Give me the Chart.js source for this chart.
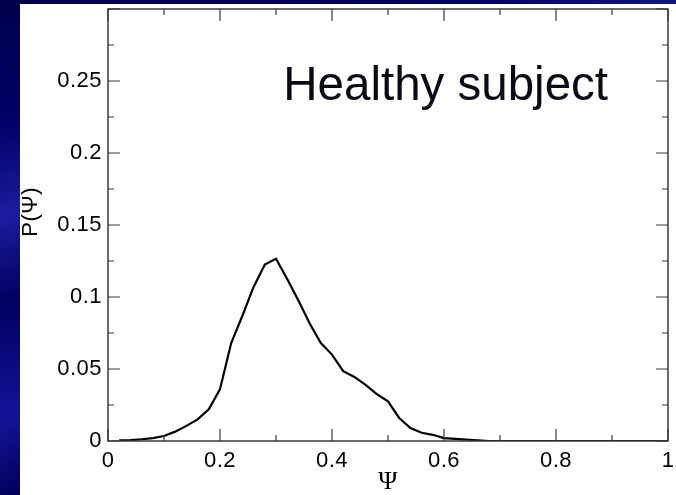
<!DOCTYPE html>
<html>
<head>
<meta charset="utf-8">
<script src="https://cdn.jsdelivr.net/npm/chart.js@4.4.1/dist/chart.umd.min.js"></script>
<style>
  html, body { margin: 0; padding: 0; }
  body {
    width: 676px; height: 495px; overflow: hidden; position: relative;
    background: linear-gradient(165deg, #00004e 0%, #000066 18%, #1c1ca0 32%, #000060 45%, #14149a 62%, #00005a 74%, #000050 100%);
  }
  #painel { position: absolute; left: 20px; top: 4px; width: 656px; height: 491px; background: #fff; }
</style>
</head>
<body>
<div id="painel"><canvas id="grafico" width="656" height="491"></canvas></div>
<script>
const psi = [0.02, 0.04, 0.06, 0.08, 0.10, 0.12, 0.14, 0.16, 0.18, 0.20,
             0.22, 0.24, 0.26, 0.28, 0.30, 0.32, 0.34, 0.36, 0.38, 0.40,
             0.42, 0.44, 0.46, 0.48, 0.50, 0.52, 0.54, 0.56, 0.58, 0.60,
             0.62, 0.64, 0.66, 0.68, 0.70, 0.72, 0.74, 0.76, 0.78, 0.80,
             0.82, 0.84, 0.86, 0.88, 0.90, 0.92, 0.94, 0.96, 0.98, 1.00];
const prob = [0.0004, 0.0006, 0.0012, 0.002, 0.0035, 0.0065, 0.0105, 0.015, 0.022, 0.036,
              0.068, 0.087, 0.107, 0.1225, 0.1266, 0.1125, 0.0975, 0.0817, 0.068, 0.060,
              0.0485, 0.0445, 0.039, 0.0325, 0.0275, 0.016, 0.009, 0.0057, 0.0043, 0.002,
              0.0015, 0.001, 0.0005, 0, 0, 0, 0, 0, 0, 0,
              0, 0, 0, 0, 0, 0, 0, 0, 0, 0];

const xMajor = [0, 0.2, 0.4, 0.6, 0.8, 1];
const xMinor = [0.1, 0.3, 0.5, 0.7, 0.9];
const yMajor = [0, 0.05, 0.1, 0.15, 0.2, 0.25, 0.3];
const yMinor = [0.025, 0.075, 0.125, 0.175, 0.225, 0.275];
const yLabeled = [0, 0.05, 0.1, 0.15, 0.2, 0.25];
const legenda = 'Healthy subject';
const legendaPos = [0.313, 0.2365];

// moldura com marcas para dentro, nos quatro lados
const moldura = {
  id: 'moldura',
  beforeDraw(chart) {
    chart.ctx.letterSpacing = '0.5px';
  },
  afterDatasetsDraw(chart) {
    const { ctx, chartArea: a, scales: { x, y } } = chart;
    ctx.save();
    ctx.strokeStyle = '#3a3a3a';
    ctx.lineWidth = 1.5;
    ctx.strokeRect(a.left, a.top, a.right - a.left, a.bottom - a.top);
    ctx.lineWidth = 1.2;
    ctx.beginPath();
    const marcaX = (v, len) => {
      const px = x.getPixelForValue(v);
      ctx.moveTo(px, a.bottom); ctx.lineTo(px, a.bottom - len);
      ctx.moveTo(px, a.top); ctx.lineTo(px, a.top + len);
    };
    const marcaY = (v, len) => {
      const py = y.getPixelForValue(v);
      ctx.moveTo(a.left, py); ctx.lineTo(a.left + len, py);
      ctx.moveTo(a.right, py); ctx.lineTo(a.right - len, py);
    };
    xMajor.forEach(v => marcaX(v, 12));
    xMinor.forEach(v => marcaX(v, 6));
    yMajor.forEach(v => marcaY(v, 12));
    yMinor.forEach(v => marcaY(v, 6));
    ctx.stroke();

    ctx.letterSpacing = '0px';
    ctx.fillStyle = '#0a0a14';
    ctx.font = '47.5px "Liberation Sans", Arial, sans-serif';
    ctx.textBaseline = 'alphabetic';
    ctx.textAlign = 'left';
    ctx.fillText(legenda, x.getPixelForValue(legendaPos[0]), y.getPixelForValue(legendaPos[1]));
    ctx.restore();
  }
};

const ctx = document.getElementById('grafico').getContext('2d');
new Chart(ctx, {
  type: 'line',
  data: {
    datasets: [{
      data: psi.map((v, i) => ({ x: v, y: prob[i] })),
      borderColor: '#000',
      borderWidth: 2.2,
      pointRadius: 0,
      tension: 0,
      fill: false
    }]
  },
  options: {
    responsive: false,
    animation: false,
    layout: { padding: { top: 5, right: 8, left: 0, bottom: 0 } },
    plugins: { legend: { display: false }, tooltip: { enabled: false } },
    scales: {
      x: {
        type: 'linear',
        min: 0, max: 1,
        afterBuildTicks: s => { s.ticks = xMajor.map(v => ({ value: v })); },
        afterFit: s => { s.height = 54; s.paddingLeft = 0; s.paddingRight = 0; },
        grid: { display: false, drawTicks: false },
        border: { display: false },
        ticks: {
          color: '#000',
          font: { family: '"Liberation Sans", Arial, sans-serif', size: 22 },
          padding: 7,
          maxRotation: 0,
          autoSkip: false,
          callback: v => String(+v.toFixed(2))
        },
        title: {
          display: true,
          text: 'Ψ',
          color: '#000',
          font: { family: '"Liberation Serif", "DejaVu Serif", serif', size: 26, lineHeight: 1 },
          padding: { top: 0, bottom: 0 }
        }
      },
      y: {
        min: 0, max: 0.3,
        afterBuildTicks: s => { s.ticks = yLabeled.map(v => ({ value: v })); },
        afterFit: s => { s.width = 88; s.paddingTop = 0; s.paddingBottom = 0; },
        grid: { display: false, drawTicks: false },
        border: { display: false },
        ticks: {
          color: '#000',
          font: { family: '"Liberation Sans", Arial, sans-serif', size: 22 },
          padding: 6,
          callback: v => String(+v.toFixed(3))
        },
        title: {
          display: true,
          text: '    P(Ψ)',
          color: '#000',
          font: { family: '"Liberation Sans", Arial, sans-serif', size: 22, lineHeight: 1 },
          padding: { top: 0, bottom: 0 }
        }
      }
    }
  },
  plugins: [moldura]
});
</script>
</body>
</html>
